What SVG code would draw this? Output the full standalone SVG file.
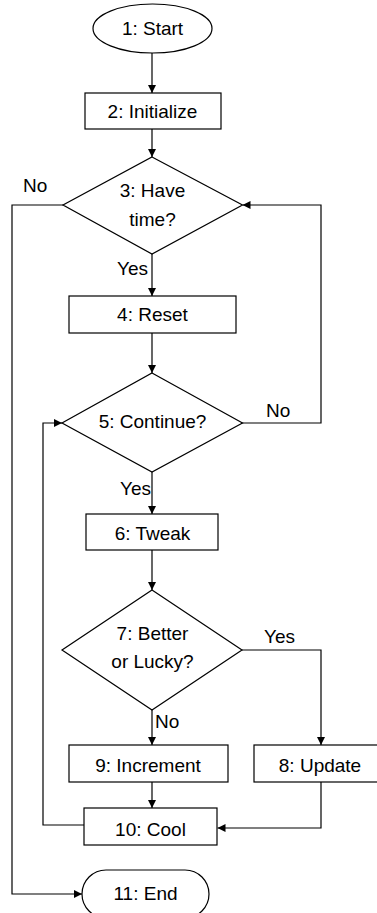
<svg xmlns="http://www.w3.org/2000/svg" width="377" height="913" viewBox="0 0 377 913">
<defs>
<marker id="arr" viewBox="0 0 10 10" refX="10" refY="5" markerWidth="8" markerHeight="8" markerUnits="userSpaceOnUse" orient="auto">
<path d="M0,0 L10,5 L0,10 Z" fill="#000"/>
</marker>
<style>
.s{fill:#fff;stroke:#000;stroke-width:1.2}
.c{fill:none;stroke:#000;stroke-width:1.2}
.a{marker-end:url(#arr)}
text{font-family:"Liberation Sans",Arial,sans-serif;font-size:19px;fill:#000}
.m{text-anchor:middle}
</style>
</defs>
<rect width="377" height="913" fill="#fff"/>
<g id="connectors">
<line class="c a" x1="152" y1="53" x2="152" y2="93"/>
<line class="c a" x1="152" y1="129" x2="152" y2="157"/>
<line class="c a" x1="152" y1="254" x2="152" y2="296"/>
<line class="c a" x1="152" y1="333" x2="152" y2="373"/>
<line class="c a" x1="152" y1="472" x2="152" y2="514"/>
<line class="c a" x1="152" y1="550" x2="152" y2="590"/>
<line class="c a" x1="152" y1="710" x2="152" y2="745"/>
<polyline class="c a" points="242,650 321,650 321,745"/>
<line class="c a" x1="152" y1="782" x2="152" y2="808"/>
<polyline class="c a" points="321,782 321,828 217.5,828"/>
<polyline class="c a" points="84,825 43,825 43,423 62,423"/>
<polyline class="c a" points="242,423 321,423 321,205 242.5,205"/>
<polyline class="c a" points="63,205 12,205 12,894 82,894"/>
<text x="148" y="275" text-anchor="end">Yes</text>
<text x="151" y="495" text-anchor="end">Yes</text>
<text x="155" y="728">No</text>
<text x="264" y="643">Yes</text>
<text x="266" y="417">No</text>
<text x="23" y="192">No</text>
</g>
<g id="n1"><ellipse class="s" cx="152.5" cy="28.5" rx="59.5" ry="24.5"/><text class="m" x="152.5" y="35">1: Start</text></g>
<g id="n2"><rect class="s" x="85" y="93" width="136" height="36"/><text class="m" x="152.5" y="118">2: Initialize</text></g>
<g id="n3"><polygon class="s" points="152,157 242.5,205 152,254 63,205"/><text class="m" x="152.5" y="197">3: Have</text><text class="m" x="152.5" y="226">time?</text></g>
<g id="n4"><rect class="s" x="69" y="296" width="167" height="37"/><text class="m" x="152.5" y="321">4: Reset</text></g>
<g id="n5"><polygon class="s" points="152,373 242.5,423 152,472 62,423"/><text class="m" x="152.5" y="428">5: Continue?</text></g>
<g id="n6"><rect class="s" x="86" y="514" width="132" height="36"/><text class="m" x="152.5" y="540">6: Tweak</text></g>
<g id="n7"><polygon class="s" points="152,590 242,650 152,710 62,650"/><text class="m" x="152.5" y="640">7: Better</text><text class="m" x="152.5" y="668">or Lucky?</text></g>
<g id="n8"><rect class="s" x="254" y="745" width="133" height="37"/><text class="m" x="320" y="772">8: Update</text></g>
<g id="n9"><rect class="s" x="69" y="745" width="159" height="37"/><text class="m" x="148" y="772">9: Increment</text></g>
<g id="n10"><rect class="s" x="84" y="808" width="133" height="37"/><text class="m" x="150.5" y="836">10: Cool</text></g>
<g id="n11"><rect class="s" x="82" y="870" width="127" height="48" rx="24"/><text class="m" x="145.5" y="900">11: End</text></g>
</svg>
